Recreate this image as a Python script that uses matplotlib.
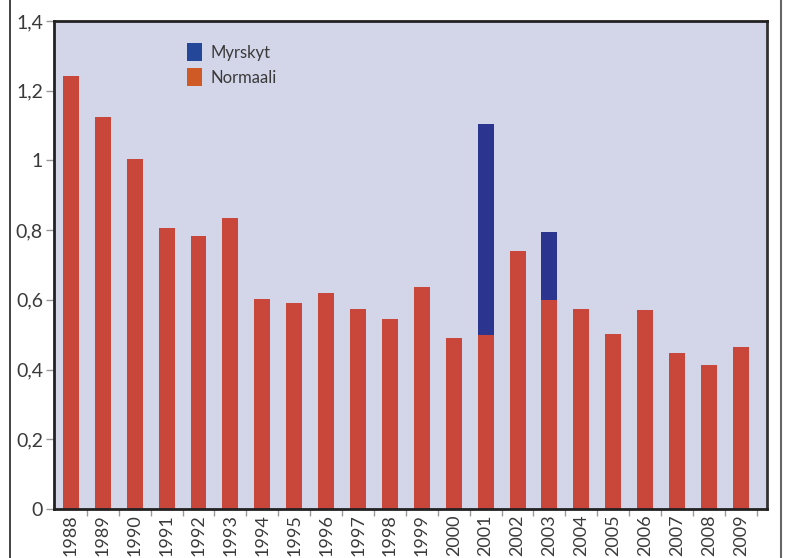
import numpy as np
import matplotlib.pyplot as plt
from matplotlib.patches import Patch
from matplotlib.lines import Line2D

plt.rcParams['font.family'] = ['Lato', 'DejaVu Sans']

years = ['1988', '1989', '1990', '1991', '1992', '1993', '1994', '1995',
         '1996', '1997', '1998', '1999', '2000', '2001', '2002', '2003',
         '2004', '2005', '2006', '2007', '2008', '2009']
normaali = [1.242, 1.124, 1.003, 0.807, 0.784, 0.836, 0.602, 0.591,
            0.620, 0.573, 0.545, 0.637, 0.490, 0.499, 0.741, 0.599,
            0.573, 0.501, 0.571, 0.447, 0.412, 0.464]
myrskyt = [0, 0, 0, 0, 0, 0, 0, 0, 0, 0, 0, 0, 0, 0.605, 0, 0.196,
           0, 0, 0, 0, 0, 0]
yticks = [0, 0.2, 0.4, 0.6, 0.8, 1.0, 1.2, 1.4]
ytick_labels = ['0', '0,2', '0,4', '0,6', '0,8', '1', '1,2', '1,4']

fig = plt.figure(figsize=(7.85, 5.58), dpi=100)
ax = fig.add_axes([54 / 785, 1 - 509 / 558, 713 / 785, 488 / 558])
ax.set_facecolor('#d3d5e8')

x = np.arange(len(years))
ax.bar(x, normaali, width=0.5, color='#c9463a', linewidth=0)
ax.bar(x, myrskyt, width=0.5, bottom=normaali, color='#2b3590', linewidth=0)

ax.set_xlim(-0.53, 21.82)
ax.set_ylim(0, 1.4)
ax.set_yticks(yticks)
ax.set_yticklabels(ytick_labels, fontsize=14, color='#3a3a3a')
ax.set_xticks(x + 0.5)
ax.set_xticklabels([])
ax.set_xticks(x, minor=True)
ax.set_xticklabels(years, minor=True, rotation=90, fontsize=13,
                   color='#3a3a3a')
ax.tick_params(axis='x', which='minor', length=0, pad=4)
ax.tick_params(axis='x', which='major', length=5, color='#999999', width=1)
ax.tick_params(axis='y', length=6, color='#999999', width=1, pad=2)

for s in ax.spines.values():
    s.set_color('#222222')
    s.set_linewidth(2)
ax.spines['right'].set_color('#333333')

handles = [Patch(facecolor='#25479a', label='Myrskyt'),
           Patch(facecolor='#d05a25', label='Normaali')]
ax.legend(handles=handles, loc='upper left', bbox_to_anchor=(0.165, 0.985),
          frameon=False, fontsize=12, handlelength=0.95, handleheight=1.3,
          handletextpad=0.5, labelspacing=0.4, labelcolor='#3a3a3a')

# outer frame lines
fig.add_artist(Line2D([10 / 785, 10 / 785], [0, 1], color='#222222', lw=1.2))
fig.add_artist(Line2D([780.5 / 785, 780.5 / 785], [0, 1], color='#666666', lw=1.5))

fig.savefig('out.png', dpi=100)
